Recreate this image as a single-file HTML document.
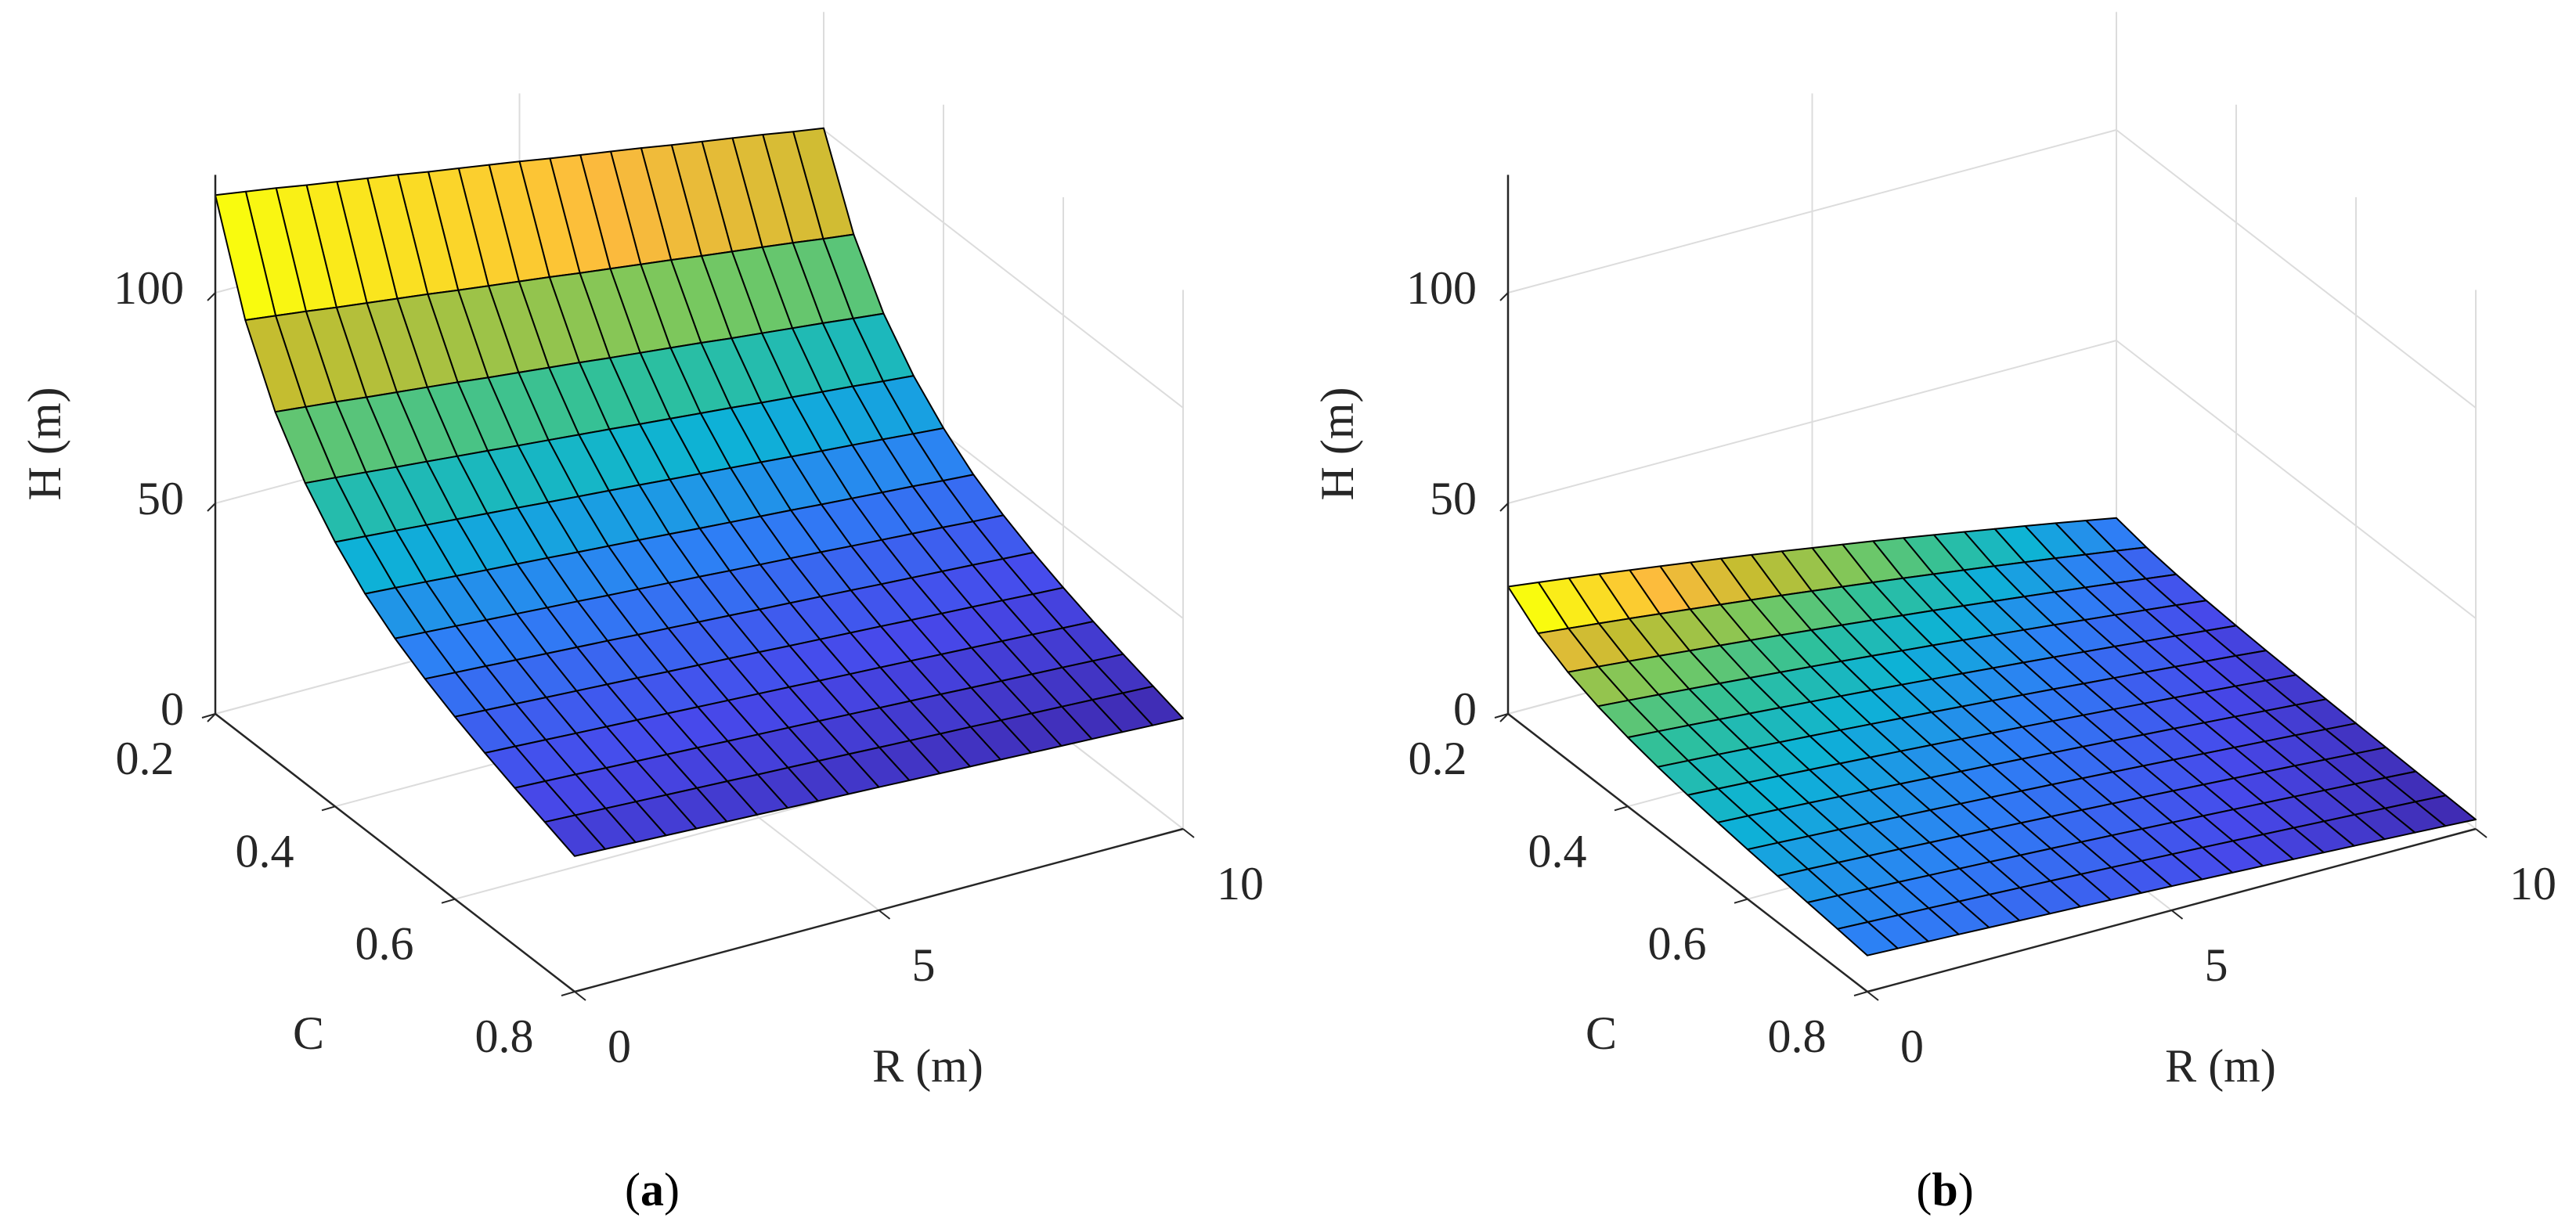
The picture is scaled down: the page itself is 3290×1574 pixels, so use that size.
<!DOCTYPE html>
<html><head><meta charset="utf-8"><style>
html,body{margin:0;padding:0;background:#fff;}
svg{display:block;font-family:"Liberation Serif",serif;}
</style></head><body>
<svg id="fig" width="3290" height="1574" viewBox="0 0 3290 1574" xmlns="http://www.w3.org/2000/svg">
<rect width="3290" height="1574" fill="#fff"/>
<g id="panelA"></g>
<g id="panelB"></g>
<text x="833" y="1540" font-size="60" text-anchor="middle">(<tspan font-weight="bold">a</tspan>)</text>
<text x="2484" y="1540" font-size="60" text-anchor="middle">(<tspan font-weight="bold">b</tspan>)</text>
</svg>
<script>
const rVals = [0,0.5,1,1.5,2,2.5,3,3.5,4,4.5,5,5.5,6,6.5,7,7.5,8,8.5,9,9.5,10];
const cVals = [0.2,0.25,0.3,0.35,0.4,0.45,0.5,0.55,0.6,0.65,0.7,0.75,0.8];
const hLeftA = [123.2,99.0,82.7,71.3,62.8,56.0,50.9,46.8,43.3,40.2,37.4,34.8,32.2];
const rFactorA = [1.000,0.991,0.982,0.972,0.963,0.954,0.945,0.935,0.926,0.917,0.908,0.898,0.889,0.880,0.871,0.861,0.852,0.843,0.834,0.824,0.815];
const hLeftB = [30.2,24.6,20.9,18.3,16.4,14.9,13.7,12.7,11.8,11.0,10.2,9.4,8.6];
const rFactorB = [1.000,0.970,0.939,0.907,0.874,0.841,0.807,0.773,0.738,0.702,0.665,0.628,0.590,0.551,0.511,0.471,0.430,0.389,0.347,0.304,0.260];
const zTicks = [0,50,100];
const cTicks = [0.2,0.4,0.6,0.8];
const cTickLabels = ["0.2","0.4","0.6","0.8"];
const rTicks = [0,5,10];
const rTickLabels = ["0","5","10"];

const NS = "http://www.w3.org/2000/svg";
const ZMAX = 128;
const stops = [[0,[62,38,168]],[0.12,[71,73,235]],[0.25,[46,127,245]],[0.38,[13,178,214]],[0.5,[47,192,155]],[0.62,[120,200,95]],[0.75,[196,189,48]],[0.86,[252,186,61]],[1,[249,251,14]]];
function parula(t){
  t=Math.max(0,Math.min(1,t));
  for(let i=1;i<stops.length;i++){
    if(t<=stops[i][0]){const a=stops[i-1],b=stops[i];const f=(t-a[0])/(b[0]-a[0]);
      return "rgb("+a[1].map((v,k)=>Math.round(v+(b[1][k]-v)*f)).join(",")+")";}
  }
  return "rgb(249,251,14)";
}
function mk(tag,attrs,parent){const e=document.createElementNS(NS,tag);for(const k in attrs)e.setAttribute(k,attrs[k]);parent.appendChild(e);return e;}

function drawPanel(g, ox, hLeft, rFactor, name){
  const P=(R,C,H)=>[ox+R*77.7+(C-0.2)/0.6*459, 912-R*20.8+(C-0.2)/0.6*355-H*5.38];
  const line=(a,b,col,w,nm)=>{const l=mk("line",{x1:a[0],y1:a[1],x2:b[0],y2:b[1],stroke:col,"stroke-width":w},g);
    
    return l;};
  const gray="#dcdcdc";
  // back wall C=0.2 and R=10 wall, floor grid
  rTicks.forEach(R=>line(P(R,0.2,0),P(R,0.2,ZMAX),gray,2,'grid-wall-r'));
  cTicks.forEach(C=>line(P(10,C,0),P(10,C,ZMAX),gray,2,'grid-wall-c'));
  zTicks.forEach(Z=>{line(P(0,0.2,Z),P(10,0.2,Z),gray,2,'grid-wall-z');line(P(10,0.2,Z),P(10,0.8,Z),gray,2,'grid-wall-z');});
  rTicks.forEach(R=>line(P(R,0.2,0),P(R,0.8,0),gray,2,'grid-floor-r'));
  cTicks.forEach(C=>line(P(0,C,0),P(10,C,0),gray,2,'grid-floor-c'));
  // surface values
  const H=cVals.map((c,i)=>rVals.map((r,j)=>hLeft[i]*rFactor[j]));
  let mn=Infinity,mx=-Infinity;H.forEach(row=>row.forEach(v=>{mn=Math.min(mn,v);mx=Math.max(mx,v);}));
  const sg=mk("g",{},g);
  
  
  for(let i=0;i<cVals.length-1;i++){
    for(let j=rVals.length-2;j>=0;j--){
      const pts=[P(rVals[j],cVals[i],H[i][j]),P(rVals[j+1],cVals[i],H[i][j+1]),P(rVals[j+1],cVals[i+1],H[i+1][j+1]),P(rVals[j],cVals[i+1],H[i+1][j])];
      const p=mk("polygon",{points:pts.map(q=>q[0].toFixed(1)+","+q[1].toFixed(1)).join(" "),fill:parula((H[i][j]-mn)/(mx-mn)),stroke:"#000","stroke-width":2,"stroke-linejoin":"round"},sg);
      
      
    }
  }
  // axes
  const k="#262626";
  line(P(0,0.2,0),P(0,0.2,ZMAX),k,2.5,'z-axis');
  line(P(0,0.2,0),P(0,0.8,0),k,2.5,'c-axis');
  line(P(0,0.8,0),P(10,0.8,0),k,2.5,'r-axis');
  zTicks.forEach((Z,i)=>{const a=P(0,0.2,Z);line(a,[a[0]-10,a[1]+10],k,2,'z-tick');
    const t=mk("text",{x:a[0]-40,y:a[1]-6,"font-size":60,"text-anchor":"end","dominant-baseline":"central",fill:"#262626"},g);t.textContent=String(Z);
    
    });
  cTicks.forEach((C,i)=>{const a=P(0,C,0);line(a,[a[0]-17,a[1]+5],k,2,'c-tick');
    const t=mk("text",{x:a[0]-90,y:a[1]+57,"font-size":60,"text-anchor":"middle","dominant-baseline":"central",fill:"#262626"},g);t.textContent=cTickLabels[i];
    
    });
  rTicks.forEach((R,i)=>{const a=P(R,0.8,0);line(a,[a[0]+14,a[1]+11],k,2,'r-tick');
    const t=mk("text",{x:a[0]+57+(R==10?16:0),y:a[1]+70,"font-size":60,"text-anchor":"middle","dominant-baseline":"central",fill:"#262626"},g);t.textContent=rTickLabels[i];
    
    });
  const o=P(0,0.2,0);
  const zl=mk("text",{x:0,y:0,"font-size":60,"text-anchor":"middle","dominant-baseline":"central",fill:"#262626",transform:"translate("+(o[0]-218)+",567) rotate(-90)"},g);zl.textContent="H (m)";
  
  
  const cl=mk("text",{x:o[0]+119,y:1320,"font-size":60,"text-anchor":"middle","dominant-baseline":"central",fill:"#262626"},g);cl.textContent="C";
  
  
  const rl=mk("text",{x:o[0]+910,y:1362,"font-size":60,"text-anchor":"middle","dominant-baseline":"central",fill:"#262626"},g);rl.textContent="R (m)";
  
  
}
drawPanel(document.getElementById("panelA"),275,hLeftA,rFactorA,"a");
drawPanel(document.getElementById("panelB"),1926,hLeftB,rFactorB,"b");
</script>
</body></html>
